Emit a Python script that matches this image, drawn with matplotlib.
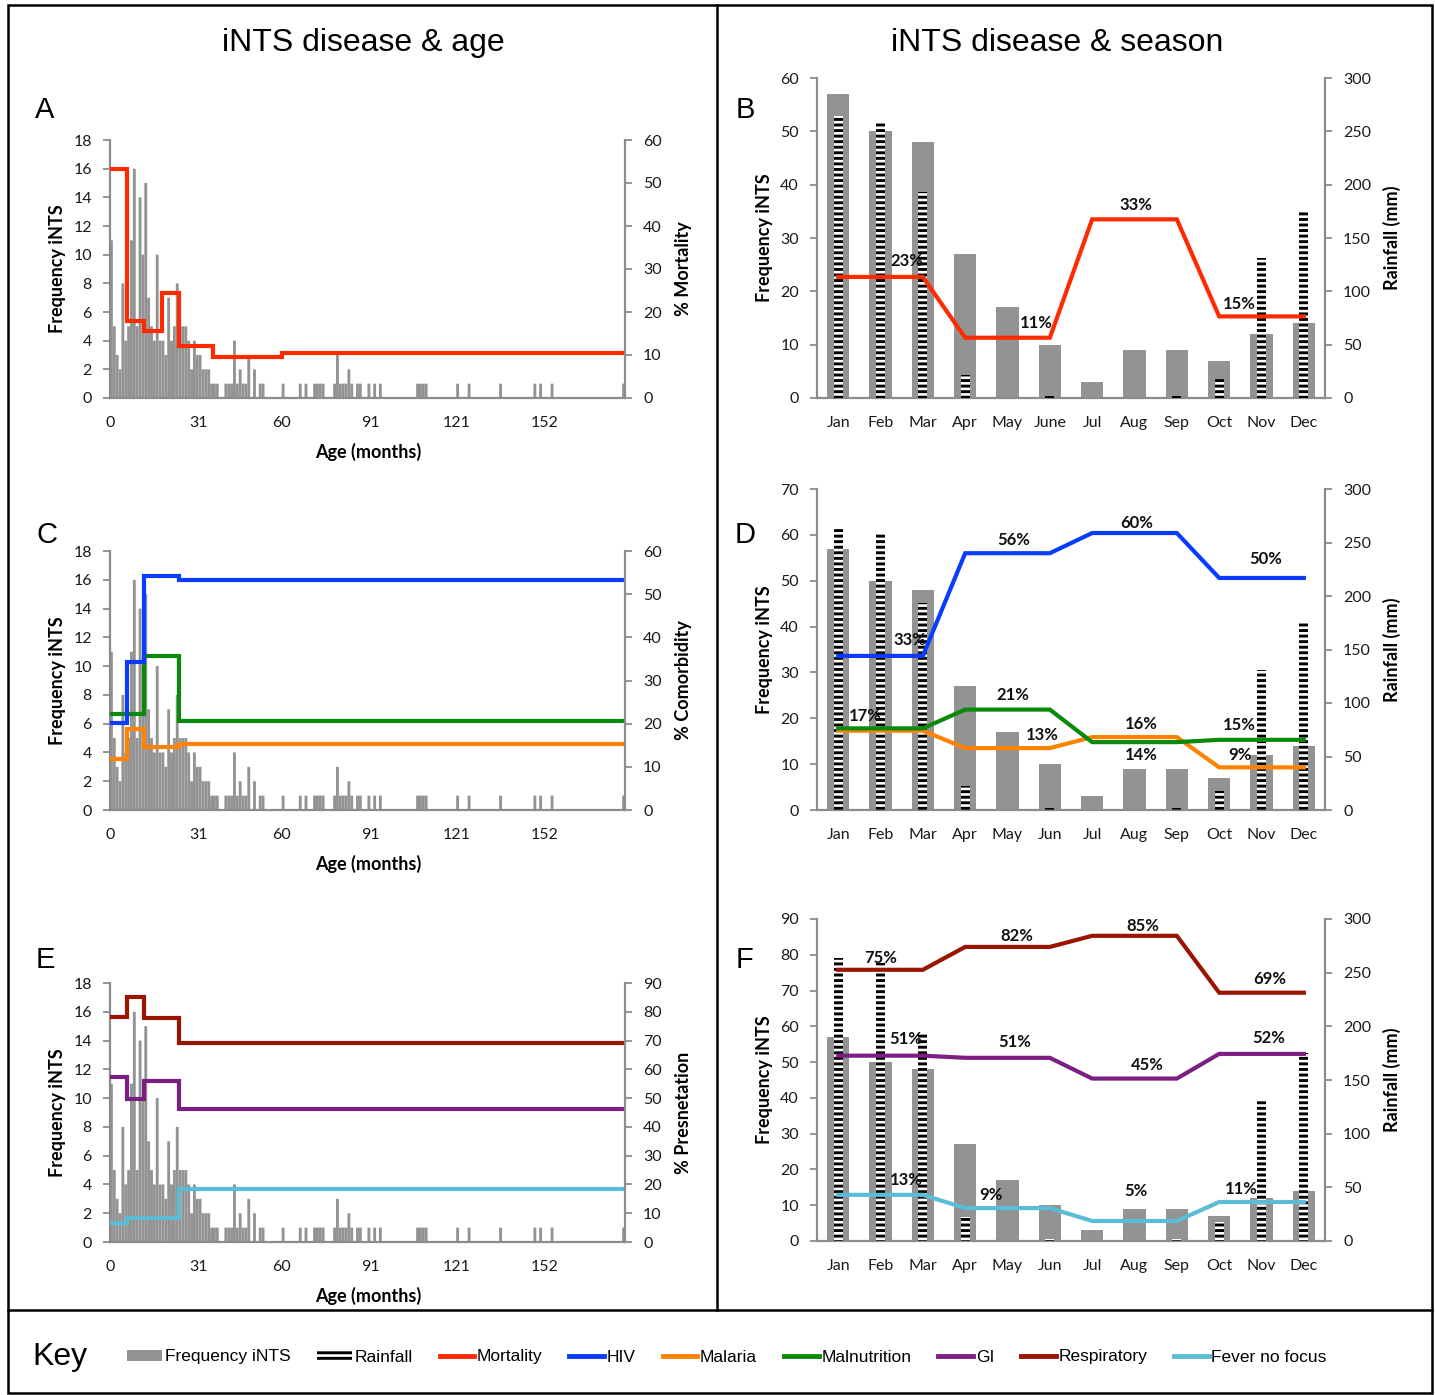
import matplotlib
matplotlib.use('Agg')
import matplotlib.pyplot as plt
from matplotlib.patches import Patch, Rectangle
from matplotlib.lines import Line2D
from matplotlib.font_manager import FontProperties

# ------------------------------------------------------------------ data
age_months = list(range(180))
age_counts = [
    11, 5, 3, 2, 8, 4, 5, 11, 16, 5,
    14, 10, 15, 7, 5, 4, 10, 4, 4, 3,
    7, 4, 5, 8, 5, 5, 5, 4, 2, 4,
    3, 3, 2, 2, 2, 1, 1, 1, 0, 0,
    1, 1, 1, 4, 1, 2, 1, 1, 3, 0,
    2, 0, 1, 1, 0, 0, 0, 0, 0, 0,
    1, 0, 0, 0, 0, 0, 1, 0, 1, 0,
    0, 1, 1, 1, 1, 0, 0, 0, 1, 3,
    1, 1, 1, 2, 1, 0, 1, 1, 0, 0,
    1, 0, 1, 0, 1, 0, 0, 0, 0, 0,
    0, 0, 0, 0, 0, 0, 0, 1, 1, 1,
    1, 0, 0, 0, 0, 0, 0, 0, 0, 0,
    0, 1, 0, 0, 0, 1, 0, 0, 0, 0,
    0, 0, 0, 0, 0, 0, 1, 0, 0, 0,
    0, 0, 0, 0, 0, 0, 0, 0, 1, 0,
    1, 0, 0, 0, 1, 0, 0, 0, 0, 0,
    0, 0, 0, 0, 0, 0, 0, 0, 0, 0,
    0, 0, 0, 0, 0, 0, 0, 0, 0, 1,
]
age_ticks = [0, 31, 60, 91, 121, 152]

# step lines by age band (percent)
mort_edges = [0, 6, 12, 18, 24, 36, 60, 180]
mortality_pct = [53.3, 17.8, 15.6, 24.5, 12.2, 9.6, 10.4]

como_edges = [0, 6, 12, 24, 180]
hiv_pct = [20.2, 34.4, 54.3, 53.3]
malaria_pct = [11.8, 18.8, 14.5, 15.4]
malnutrition_pct = [22.3, 22.3, 35.6, 20.6]

pres_edges = [0, 6, 12, 24, 180]
respiratory_pct = [78.2, 85.2, 78.0, 69.3]
gi_pct = [57.2, 49.6, 56.0, 46.1]
fever_pct = [6.5, 8.5, 8.5, 18.3]

# season
months_B = ['Jan', 'Feb', 'Mar', 'Apr', 'May', 'June', 'Jul', 'Aug', 'Sep', 'Oct', 'Nov', 'Dec']
months = ['Jan', 'Feb', 'Mar', 'Apr', 'May', 'Jun', 'Jul', 'Aug', 'Sep', 'Oct', 'Nov', 'Dec']
freq_month = [57, 50, 48, 27, 17, 10, 3, 9, 9, 7, 12, 14]
rainfall_mm = [264, 259, 193, 22, 0, 2, 0, 0, 2, 18, 131, 175]

mortality_month = [22.7, 22.7, 22.7, 11.3, 11.3, 11.3, 33.5, 33.5, 33.5, 15.3, 15.3, 15.3]
hiv_month = [33.6, 33.6, 33.6, 56.0, 56.0, 56.0, 60.4, 60.4, 60.4, 50.6, 50.6, 50.6]
malnutrition_month = [17.8, 17.8, 17.8, 21.9, 21.9, 21.9, 14.8, 14.8, 14.8, 15.3, 15.3, 15.3]
malaria_month = [17.3, 17.3, 17.3, 13.5, 13.5, 13.5, 15.9, 15.9, 15.9, 9.3, 9.3, 9.3]
respiratory_month = [75.8, 75.8, 75.8, 82.2, 82.2, 82.2, 85.3, 85.3, 85.3, 69.4, 69.4, 69.4]
gi_month = [51.8, 51.8, 51.8, 51.2, 51.2, 51.2, 45.4, 45.4, 45.4, 52.3, 52.3, 52.3]
fever_month = [12.9, 12.9, 12.9, 9.2, 9.2, 9.2, 5.6, 5.6, 5.6, 10.9, 10.9, 10.9]

# percentage annotations (text, x in months, y in left-axis units)
B_labels = [('23%', 1.61, 25.7), ('11%', 4.67, 14.1), ('33%', 7.04, 36.2), ('15%', 9.48, 17.6)]
D_labels = [('33%', 1.70, 37.1), ('56%', 4.15, 58.9), ('60%', 7.04, 62.6), ('50%', 10.1, 54.7),
            ('17%', 0.64, 20.5), ('21%', 4.12, 25.1), ('13%', 4.83, 16.4), ('16%', 7.16, 18.8),
            ('14%', 7.16, 12.0), ('15%', 9.48, 18.5), ('9%', 9.48, 12.0)]
F_labels = [('75%', 1.0, 79.1), ('82%', 4.22, 85.3), ('85%', 7.2, 88.1), ('69%', 10.2, 73.2),
            ('51%', 1.59, 56.4), ('51%', 4.17, 55.6), ('45%', 7.3, 49.2), ('52%', 10.17, 56.7),
            ('13%', 1.61, 17.0), ('9%', 3.6, 12.8), ('5%', 7.04, 14.0), ('11%', 9.53, 14.5)]

# ------------------------------------------------------------------ style
plt.rcParams['font.family'] = ['Lato', 'DejaVu Sans']
plt.rcParams['hatch.color'] = 'black'
plt.rcParams['hatch.linewidth'] = 2.1

GRAY = '#939393'
SPINE = '#8c8c8c'
RED = '#ff2a00'
BLUE = '#0a3cff'
ORANGE = '#ff8200'
GREEN = '#0a8a0a'
PURPLE = '#7d1f80'
DARKRED = '#9a1400'
CYAN = '#5bbcd6'
LW = 3.0

W, H = 1435, 1395
fig = plt.figure(figsize=(W / 100, H / 100), dpi=100)


def rect(x0, y0, x1, y1):
    return [x0 / W, 1 - y1 / H, (x1 - x0) / W, (y1 - y0) / H]


def style_left(ax):
    ax.spines['top'].set_visible(False)
    ax.spines['right'].set_visible(False)
    for s in ['left', 'bottom']:
        ax.spines[s].set_color(SPINE)
        ax.spines[s].set_linewidth(1.6)
    ax.tick_params(axis='y', direction='out', length=5, width=1.3, color=SPINE,
                   pad=8, labelsize=11.5, labelcolor='#1a1a1a')
    ax.tick_params(axis='x', length=0, pad=13, labelsize=11.5, labelcolor='#1a1a1a')


def style_right(axr):
    for s in ['top', 'left', 'bottom']:
        axr.spines[s].set_visible(False)
    axr.spines['right'].set_color(SPINE)
    axr.spines['right'].set_linewidth(1.6)
    axr.tick_params(axis='y', direction='out', length=5, width=1.3, color=SPINE,
                    pad=8, labelsize=11.5, labelcolor='#1a1a1a')


def age_panel(r, rmax, rstep, rlabel, steps):
    ax = fig.add_axes(r)
    ax.bar(age_months, age_counts, width=1.0, align='edge', color=GRAY, linewidth=0,
           snap=False)
    ax.set_xlim(0, 180)
    ax.set_ylim(0, 18)
    ax.set_yticks(range(0, 19, 2))
    ax.set_xticks(age_ticks)
    style_left(ax)
    axr = ax.twinx()
    axr.set_ylim(0, rmax)
    axr.set_yticks(range(0, rmax + 1, rstep))
    style_right(axr)
    for vals, edges, col in steps:
        axr.stairs(vals, edges, baseline=None, color=col, linewidth=LW)
    ax.text(-0.101, 0.5, 'Frequency iNTS', transform=ax.transAxes, rotation=90,
            ha='center', va='center', fontsize=13, fontweight='bold')
    ax.text(1.113, 0.5, rlabel, transform=ax.transAxes, rotation=90,
            ha='center', va='center', fontsize=13, fontweight='bold')
    ax.text(0.501, -0.209, 'Age (months)', transform=ax.transAxes,
            ha='center', va='center', fontsize=13, fontweight='bold')
    return ax


def season_panel(r, lmax, mlabels, lines, labels):
    ax = fig.add_axes(r)
    x = list(range(12))
    ax.bar(x, freq_month, width=0.52, color=GRAY, linewidth=0)
    ax.set_xlim(-0.5, 11.5)
    ax.set_ylim(0, lmax)
    ax.set_yticks(range(0, lmax + 1, 10))
    ax.set_xticks(x)
    ax.set_xticklabels(mlabels)
    style_left(ax)
    axr = ax.twinx()
    axr.bar(x, rainfall_mm, width=0.22, facecolor='white', edgecolor='black',
            hatch='---', linewidth=0)
    axr.set_ylim(0, 300)
    axr.set_yticks(range(0, 301, 50))
    style_right(axr)
    axl = ax.twinx()
    axl.set_ylim(0, lmax)
    axl.axis('off')
    for vals, col in lines:
        axl.plot(x, vals, color=col, linewidth=LW, solid_joinstyle='miter')
    for txt, lx, ly in labels:
        axl.text(lx, ly, txt, ha='center', va='center', fontsize=12, fontweight='bold',
                 color='#111111')
    ax.text(-0.1024, 0.5, 'Frequency iNTS', transform=ax.transAxes, rotation=90,
            ha='center', va='center', fontsize=13, fontweight='bold')
    ax.text(1.132, 0.5, 'Rainfall (mm)', transform=ax.transAxes, rotation=90,
            ha='center', va='center', fontsize=13, fontweight='bold')
    return ax


age_panel(rect(110, 140, 625, 398), 60, 10, '% Mortality',
          [(mortality_pct, mort_edges, RED)])
age_panel(rect(110, 551, 625, 810), 60, 10, '% Comorbidity',
          [(malaria_pct, como_edges, ORANGE), (malnutrition_pct, como_edges, GREEN),
           (hiv_pct, como_edges, BLUE)])
age_panel(rect(110, 983, 625, 1242), 90, 10, '% Presnetation',
          [(fever_pct, pres_edges, CYAN), (gi_pct, pres_edges, PURPLE),
           (respiratory_pct, pres_edges, DARKRED)])

season_panel(rect(817, 78, 1325, 398), 60, months_B, [(mortality_month, RED)], B_labels)
season_panel(rect(817, 489, 1325, 810), 70, months,
             [(malaria_month, ORANGE), (malnutrition_month, GREEN), (hiv_month, BLUE)], D_labels)
season_panel(rect(817, 919, 1325, 1241), 90, months,
             [(fever_month, CYAN), (gi_month, PURPLE), (respiratory_month, DARKRED)], F_labels)

# titles and panel letters
fig.text(363 / W, 1 - 43 / H, 'iNTS disease & age', ha='center', va='center',
         fontsize=23, family=['Liberation Sans', 'DejaVu Sans'])
fig.text(1057 / W, 1 - 43 / H, 'iNTS disease & season', ha='center', va='center',
         fontsize=23, family=['Liberation Sans', 'DejaVu Sans'])
for letter, lx, ly in [('A', 45, 110), ('B', 745, 110), ('C', 47, 535),
                       ('D', 745, 535), ('E', 45, 960), ('F', 745, 960)]:
    fig.text(lx / W, 1 - ly / H, letter, ha='center', va='center', fontsize=21,
             family=['Liberation Sans', 'DejaVu Sans'])

# frame lines
fig.add_artist(Rectangle((8 / W, 1 - 1393 / H), (1432 - 8) / W, (1393 - 5) / H,
                         transform=fig.transFigure, fill=False, lw=1.8, edgecolor='black'))
fig.add_artist(Line2D([717 / W, 717 / W], [1 - 1310 / H, 1 - 5 / H],
                      transform=fig.transFigure, color='black', lw=1.8))
fig.add_artist(Line2D([8 / W, 1432 / W], [1 - 1310 / H, 1 - 1310 / H],
                      transform=fig.transFigure, color='black', lw=1.8))

# key
narrow = ['Liberation Sans', 'DejaVu Sans']
fig.text(60 / W, 1 - 1357 / H, 'Key', ha='center', va='center', fontsize=23, family=narrow)
handles = [Patch(facecolor=GRAY, edgecolor='none'),
           Patch(facecolor='white', edgecolor='black', hatch='---', linewidth=0),
           Line2D([], [], color=RED, lw=3.5),
           Line2D([], [], color=BLUE, lw=3.5),
           Line2D([], [], color=ORANGE, lw=3.5),
           Line2D([], [], color=GREEN, lw=3.5),
           Line2D([], [], color=PURPLE, lw=3.5),
           Line2D([], [], color=DARKRED, lw=3.5),
           Line2D([], [], color=CYAN, lw=3.5)]
key_labels = ['Frequency iNTS', 'Rainfall', 'Mortality', 'HIV', 'Malaria', 'Malnutrition',
              'GI', 'Respiratory', 'Fever no focus']
fig.legend(handles, key_labels, loc='center', bbox_to_anchor=(727 / W, 1 - 1357 / H),
           ncol=9, frameon=False, prop=FontProperties(family=narrow, size=12.5),
           handlelength=2.0, handletextpad=0.15, columnspacing=1.55, handleheight=0.6,
           borderaxespad=0)

fig.savefig('out.png', dpi=100)
